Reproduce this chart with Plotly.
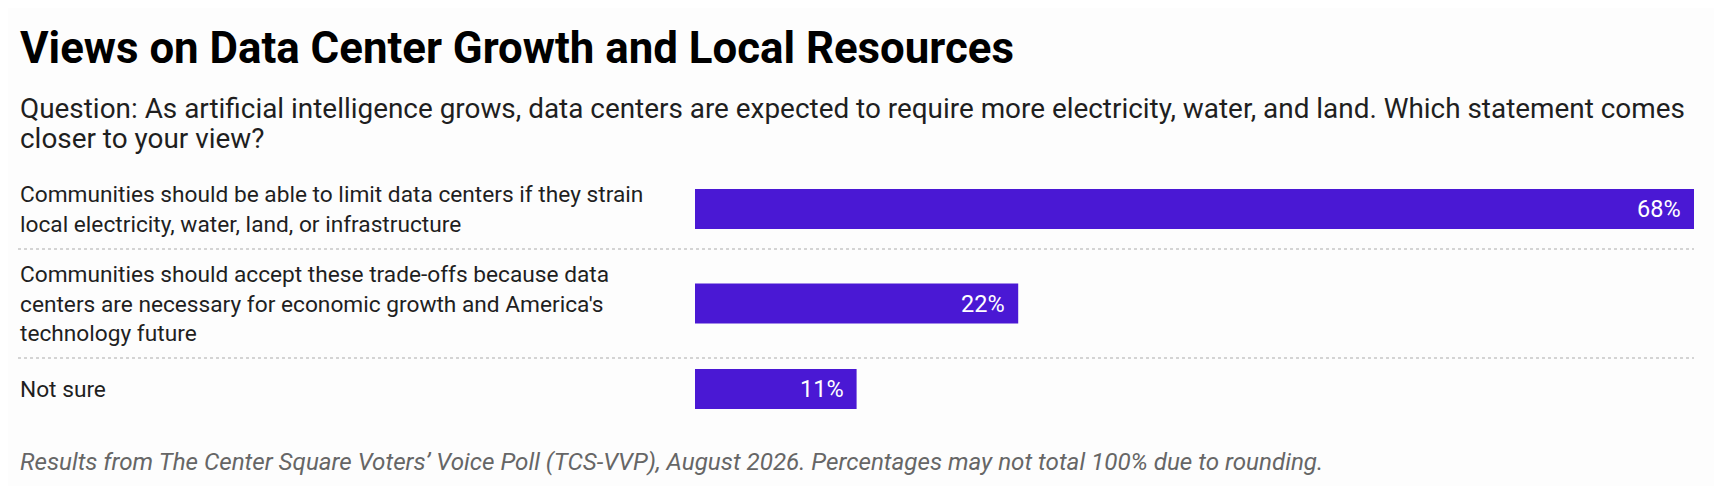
import plotly.graph_objects as go

# Survey data
labels = [
    "Communities should be able to limit data centers if they strain<br>local electricity, water, land, or infrastructure",
    "Communities should accept these trade-offs because data<br>centers are necessary for economic growth and America's<br>technology future",
    "Not sure",
]
values = [68, 22, 11]
value_text = ["68%", "22%", "11%"]

title = "Views on Data Center Growth and Local Resources"
subtitle_lines = [
    "Question: As artificial intelligence grows, data centers are expected to require more "
    "electricity, water, and land. Which statement comes",
    "closer to your view?",
]
footer = ("Results from The Center Square Voters’ Voice Poll (TCS-VVP), August 2026. "
          "Percentages may not total 100% due to rounding.")

W, H = 1722, 486
BAR_COLOR = "#4a18d4"
LABEL_SIZE = 22.7
LINE_H = 29
BAR_H = 40
ROW_PAD = 22
ROWS_TOP = 161
LEFT, RIGHT = 10, 36
BAR_LEFT = 687

# row layout in pixel units (y axis spans the whole figure, top = 0)
centers, bounds = [], []
top = ROWS_TOP
for lab in labels:
    n = lab.count("<br>") + 1
    h = max(n * LINE_H, BAR_H) + ROW_PAD
    centers.append(top + h / 2)
    top += h
    bounds.append(top)

# x range so that zero lands at the bar column
frac = (BAR_LEFT - LEFT) / (W - RIGHT - LEFT)
xmax = max(values)
xmin = -xmax * frac / (1 - frac)

fig = go.Figure()
fig.add_trace(go.Bar(
    x=values, y=centers, orientation="h", width=BAR_H, base=0,
    marker=dict(color=BAR_COLOR, line=dict(width=0)),
    hoverinfo="skip",
))

ann = []
for lab, c in zip(labels, centers):
    ann.append(dict(x=0, xref="paper", y=c, yref="y", text=lab, showarrow=False,
                    xanchor="left", yanchor="middle", align="left",
                    font=dict(family="Roboto", size=LABEL_SIZE, color="#1f1f1f")))
for v, t, c in zip(values, value_text, centers):
    ann.append(dict(x=v, xref="x", y=c, yref="y", text=t, showarrow=False,
                    xanchor="right", yanchor="middle", xshift=-11,
                    font=dict(family="Roboto", size=23.5, color="white")))

ann.append(dict(x=0, xref="paper", y=39.5, yref="y", text=title, showarrow=False,
                xanchor="left", yanchor="middle", align="left",
                font=dict(family="Roboto", size=43.8, color="#000000", weight=700)))
for i, line in enumerate(subtitle_lines):
    ann.append(dict(x=0, xref="paper", y=100.5 + 30 * i, yref="y", text=line, showarrow=False,
                    xanchor="left", yanchor="middle", align="left",
                    font=dict(family="Roboto", size=27.9, color="#1f1f1f")))
ann.append(dict(x=0, xref="paper", y=454, yref="y", text=footer, showarrow=False,
                xanchor="left", yanchor="middle", align="left",
                font=dict(family="Roboto", size=24.2, color="#666666", style="italic")))

# dotted separators between rows
shapes = []
for b in bounds[:-1]:
    shapes.append(dict(type="line", xref="paper", x0=0, x1=1, yref="y", y0=b, y1=b,
                       line=dict(color="#d4d4d4", width=2, dash="dot")))

fig.update_layout(
    width=W, height=H,
    margin=dict(l=LEFT, r=RIGHT, t=0, b=0),
    paper_bgcolor="#fdfdfd", plot_bgcolor="#fdfdfd",
    showlegend=False,
    xaxis=dict(range=[xmin, xmax], visible=False, fixedrange=True),
    yaxis=dict(range=[H, 0], visible=False, fixedrange=True),
    annotations=ann, shapes=shapes,
)

fig.write_html("out.html", config={"displayModeBar": False})
